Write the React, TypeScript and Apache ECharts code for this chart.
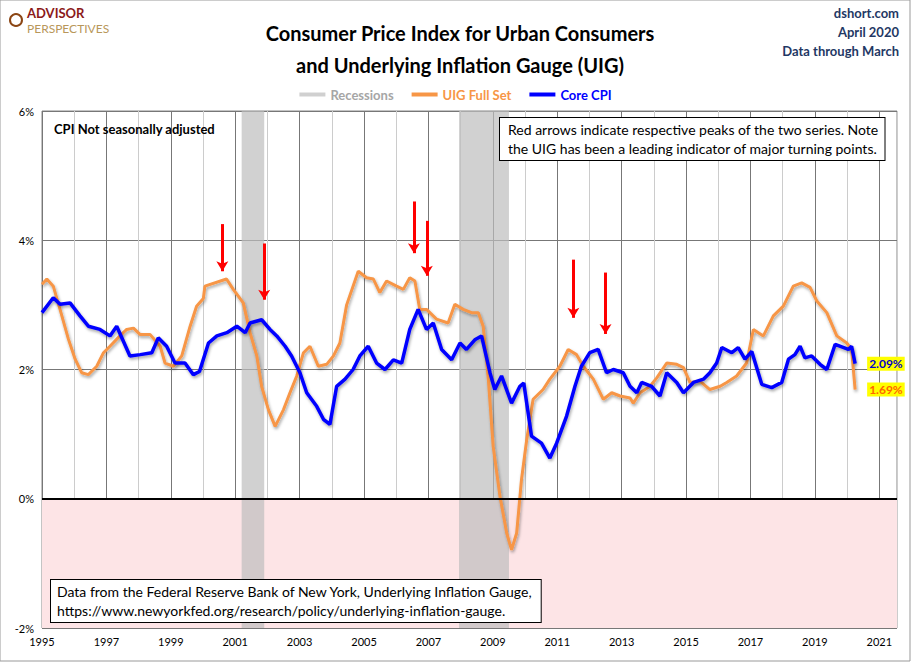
import React, { useEffect, useRef } from 'react';
import * as echarts from 'echarts';

// Core CPI (blue): decimal year and % yoy
const coreYears = [1995.0, 1995.35, 1995.56, 1995.87, 1996.18, 1996.44, 1996.8, 1997.11, 1997.32, 1997.73, 1998.05, 1998.41, 1998.61, 1998.87, 1999.13, 1999.44, 1999.7, 1999.89, 2000.17, 2000.43, 2000.74, 2001.05, 2001.31, 2001.46, 2001.82, 2002.08, 2002.29, 2002.55, 2002.75, 2003.01, 2003.22, 2003.53, 2003.74, 2003.94, 2004.15, 2004.41, 2004.66, 2004.87, 2005.13, 2005.39, 2005.65, 2005.91, 2006.17, 2006.42, 2006.68, 2006.94, 2007.15, 2007.41, 2007.72, 2007.98, 2008.18, 2008.44, 2008.65, 2008.91, 2009.06, 2009.27, 2009.58, 2009.84, 2009.96, 2010.2, 2010.51, 2010.77, 2010.98, 2011.29, 2011.55, 2011.75, 2012.01, 2012.27, 2012.53, 2012.74, 2013.05, 2013.26, 2013.47, 2013.62, 2013.93, 2014.19, 2014.4, 2014.71, 2014.92, 2015.23, 2015.54, 2015.74, 2015.95, 2016.11, 2016.42, 2016.62, 2016.83, 2017.04, 2017.35, 2017.66, 2017.97, 2018.18, 2018.38, 2018.54, 2018.69, 2018.9, 2019.16, 2019.37, 2019.63, 2020.04, 2020.14, 2020.25];
const coreValues = [2.88, 3.11, 3.01, 3.03, 2.83, 2.67, 2.62, 2.52, 2.67, 2.21, 2.23, 2.26, 2.49, 2.36, 2.1, 2.1, 1.92, 1.97, 2.41, 2.52, 2.57, 2.67, 2.57, 2.72, 2.77, 2.62, 2.52, 2.36, 2.21, 1.95, 1.64, 1.43, 1.23, 1.15, 1.74, 1.85, 2.0, 2.21, 2.36, 2.1, 2.0, 2.15, 2.1, 2.62, 2.93, 2.62, 2.72, 2.31, 2.15, 2.41, 2.31, 2.46, 2.52, 1.95, 1.69, 1.9, 1.48, 1.74, 1.79, 0.97, 0.86, 0.63, 0.86, 1.28, 1.74, 2.05, 2.26, 2.31, 1.95, 2.0, 1.95, 1.74, 1.64, 1.8, 1.74, 1.59, 1.95, 1.8, 1.64, 1.8, 1.85, 1.95, 2.1, 2.34, 2.26, 2.34, 2.16, 2.28, 1.77, 1.72, 1.8, 2.16, 2.23, 2.36, 2.18, 2.21, 2.08, 2.0, 2.39, 2.31, 2.36, 2.09];

// UIG Full Set (orange)
const uigYears = [1995.0, 1995.15, 1995.35, 1995.56, 1995.82, 1996.03, 1996.23, 1996.44, 1996.7, 1996.91, 1997.11, 1997.42, 1997.63, 1997.84, 1998.05, 1998.36, 1998.67, 1998.82, 1999.08, 1999.34, 1999.6, 1999.8, 2000.01, 2000.06, 2000.73, 2000.94, 2001.25, 2001.46, 2001.67, 2001.82, 2002.03, 2002.24, 2002.5, 2002.7, 2002.91, 2003.12, 2003.32, 2003.58, 2003.84, 2004.05, 2004.25, 2004.46, 2004.82, 2005.08, 2005.29, 2005.49, 2005.7, 2006.01, 2006.22, 2006.42, 2006.58, 2006.73, 2006.94, 2007.25, 2007.61, 2007.82, 2008.08, 2008.34, 2008.55, 2008.7, 2008.86, 2009.01, 2009.22, 2009.43, 2009.58, 2009.74, 2009.89, 2010.05, 2010.25, 2010.56, 2010.77, 2011.08, 2011.34, 2011.6, 2011.81, 2012.12, 2012.43, 2012.69, 2012.95, 2013.26, 2013.36, 2013.57, 2013.88, 2014.09, 2014.4, 2014.71, 2014.92, 2015.12, 2015.43, 2015.74, 2016.06, 2016.26, 2016.57, 2016.88, 2017.09, 2017.4, 2017.71, 2018.02, 2018.33, 2018.59, 2018.85, 2019.06, 2019.37, 2019.68, 2019.99, 2020.14, 2020.25];
const uigValues = [3.32, 3.4, 3.29, 2.93, 2.47, 2.16, 1.95, 1.92, 2.05, 2.26, 2.36, 2.52, 2.62, 2.64, 2.54, 2.54, 2.36, 2.1, 2.05, 2.21, 2.67, 2.98, 3.1, 3.29, 3.4, 3.24, 3.03, 2.57, 2.21, 1.74, 1.38, 1.12, 1.38, 1.64, 1.9, 2.26, 2.36, 2.05, 2.08, 2.21, 2.41, 3.0, 3.52, 3.42, 3.4, 3.19, 3.37, 3.29, 3.24, 3.42, 3.37, 2.93, 2.93, 2.78, 2.72, 3.01, 2.93, 2.88, 2.88, 2.67, 1.85, 0.81, 0.04, -0.53, -0.79, -0.53, 0.3, 0.91, 1.54, 1.69, 1.85, 2.05, 2.31, 2.23, 2.05, 1.85, 1.54, 1.64, 1.59, 1.56, 1.48, 1.64, 1.74, 1.87, 2.1, 2.08, 2.03, 1.8, 1.82, 1.69, 1.74, 1.8, 1.9, 2.1, 2.62, 2.52, 2.83, 2.98, 3.29, 3.34, 3.27, 3.06, 2.88, 2.52, 2.41, 2.31, 1.69];

const recessions = [[2001.2, 2001.9], [2007.95, 2009.5]];
// peak arrows: [year, top %, bottom %]
const arrows = [[2000.6, 4.25, 3.52], [2001.9, 3.95, 3.08], [2006.55, 4.6, 3.8], [2006.95, 4.3, 3.45], [2011.5, 3.7, 2.8], [2012.5, 3.5, 2.55]];
const yTicks = [-2, 0, 2, 4, 6];

const FONT = 'Lato, "Open Sans", sans-serif';
const ORANGE = '#F79646';
const BLUE = '#0000FF';

const pairs = (xs: number[], ys: number[]) => xs.map((x, i) => [x, ys[i]]);

export default function App() {
  const ref = useRef<HTMLDivElement>(null);

  useEffect(() => {
    if (!ref.current) return;
    const chart = echarts.init(ref.current, null, { renderer: 'svg' });
    const shadow = { shadowColor: 'rgba(0,0,0,0.35)', shadowBlur: 3, shadowOffsetY: 2, shadowOffsetX: 1 };
    const boxStyle = { fill: '#000', font: `14px ${FONT}`, lineHeight: 19, backgroundColor: '#fff', borderColor: '#000', borderWidth: 1 };

    chart.setOption({
      animation: false,
      backgroundColor: '#fff',
      textStyle: { fontFamily: FONT },
      title: {
        text: 'Consumer Price Index for Urban Consumers\nand Underlying Inflation Gauge (UIG)',
        left: 455, top: 12, textAlign: 'center',
        textStyle: { fontSize: 20, fontWeight: 'bold', color: '#000', lineHeight: 32, fontFamily: FONT }
      },
      legend: {
        top: 83, left: 'center', itemGap: 18,
        data: [
          { name: 'Recessions', icon: 'rect', itemStyle: { color: '#d0d0d0' }, textStyle: { color: '#a6a6a6' } },
          { name: 'UIG Full Set', icon: 'rect', textStyle: { color: ORANGE } },
          { name: 'Core CPI', icon: 'rect', textStyle: { color: BLUE } }
        ],
        itemWidth: 26, itemHeight: 4,
        textStyle: { fontSize: 13, fontWeight: 'bold', fontFamily: FONT }
      },
      grid: { left: 42, right: 14, top: 111, bottom: 34, show: true, borderColor: '#888', borderWidth: 1 },
      xAxis: {
        type: 'value', min: 1995, max: 2021.55, interval: 1,
        axisLine: { show: false }, axisTick: { show: false },
        axisLabel: {
          fontSize: 11, color: '#000', margin: 8,
          formatter: (v: number) => (Number.isInteger(v) && v % 2 === 1 ? String(v) : '')
        },
        splitLine: { show: true, lineStyle: { color: ['#777', '#ccc'], width: 1 } }
      },
      yAxis: {
        type: 'value', min: yTicks[0], max: yTicks[yTicks.length - 1], interval: 2,
        axisLine: { show: false }, axisTick: { show: false },
        axisLabel: { fontSize: 11, color: '#000', formatter: '{value}%' },
        splitLine: { lineStyle: { color: '#777' } }
      },
      series: [
        {
          name: 'Recessions', type: 'line', data: [], itemStyle: { color: '#d0d0d0' },
          markArea: {
            silent: true,
            data: [
              [{ yAxis: -2, itemStyle: { color: '#fde4e6' } }, { yAxis: 0 }],
              ...recessions.map(([a, b]) => [{ xAxis: a, itemStyle: { color: 'rgba(190,190,190,0.7)' } }, { xAxis: b }])
            ]
          },
          markLine: {
            silent: true, symbol: 'none', label: { show: false },
            lineStyle: { color: '#000', width: 2, type: 'solid' },
            data: [{ yAxis: 0 }]
          }
        },
        {
          name: 'UIG Full Set', type: 'line', data: pairs(uigYears, uigValues), showSymbol: false, z: 3,
          color: ORANGE, lineStyle: { color: ORANGE, width: 3, ...shadow },
          endLabel: {
            show: true, formatter: '1.69%', color: '#FF6600', backgroundColor: '#FFFF00',
            fontWeight: 'bold', fontSize: 12, padding: [1, 2], offset: [4, 0]
          },
          markLine: {
            silent: true, symbol: ['none', 'arrow'], symbolSize: [9, 10], label: { show: false },
            lineStyle: { color: '#FF0000', width: 3, type: 'solid', shadowBlur: 0 },
            data: arrows.map(([x, t, b]) => [{ coord: [x, t] }, { coord: [x, b] }])
          }
        },
        {
          name: 'Core CPI', type: 'line', data: pairs(coreYears, coreValues), showSymbol: false, z: 4,
          color: BLUE, lineStyle: { color: BLUE, width: 3.5, ...shadow },
          endLabel: {
            show: true, formatter: '2.09%', color: '#0000CC', backgroundColor: '#FFFF00',
            fontWeight: 'bold', fontSize: 12, padding: [1, 2], offset: [4, 0]
          }
        }
      ],
      graphic: [
        { type: 'rect', x: 0, y: 0, shape: { width: 910, height: 661 }, style: { fill: 'none', stroke: '#999', lineWidth: 1 }, silent: true, z: 100 },
        { type: 'circle', shape: { cx: 16, cy: 20, r: 6 }, style: { fill: 'none', stroke: '#8B4513', lineWidth: 2 } },
        { type: 'text', x: 27, y: 6, style: { text: 'ADVISOR', fill: '#8B1A1A', font: `bold 13px ${FONT}` } },
        { type: 'text', x: 27, y: 22, style: { text: 'PERSPECTIVES', fill: '#B8975A', font: `12px ${FONT}` } },
        { type: 'text', x: 899, y: 6, style: { text: 'dshort.com', fill: '#1F3864', font: `bold 13px ${FONT}`, align: 'right' } },
        { type: 'text', x: 899, y: 25, style: { text: 'April 2020', fill: '#1F3864', font: `bold 13px ${FONT}`, align: 'right' } },
        { type: 'text', x: 899, y: 44, style: { text: 'Data through March', fill: '#1F3864', font: `bold 13px ${FONT}`, align: 'right' } },
        { type: 'text', x: 54, y: 122, z: 100, style: { text: 'CPI Not seasonally adjusted', fill: '#000', font: `bold 13px ${FONT}` } },
        {
          type: 'text', x: 500, y: 118, z: 100,
          style: {
            ...boxStyle, padding: [2, 6, 2, 8],
            text: 'Red arrows indicate respective peaks of the two series. Note\nthe UIG has been a leading indicator of major turning points.'
          }
        },
        {
          type: 'text', x: 51, y: 580, z: 100,
          style: {
            ...boxStyle, padding: [2, 8, 2, 6],
            text: 'Data from the Federal Reserve Bank of New York, Underlying Inflation Gauge,\nhttps://www.newyorkfed.org/research/policy/underlying-inflation-gauge.'
          }
        }
      ]
    });
    return () => chart.dispose();
  }, []);

  return <div ref={ref} style={{ position: 'fixed', left: 0, top: 0, width: 911, height: 662 }} />;
}
